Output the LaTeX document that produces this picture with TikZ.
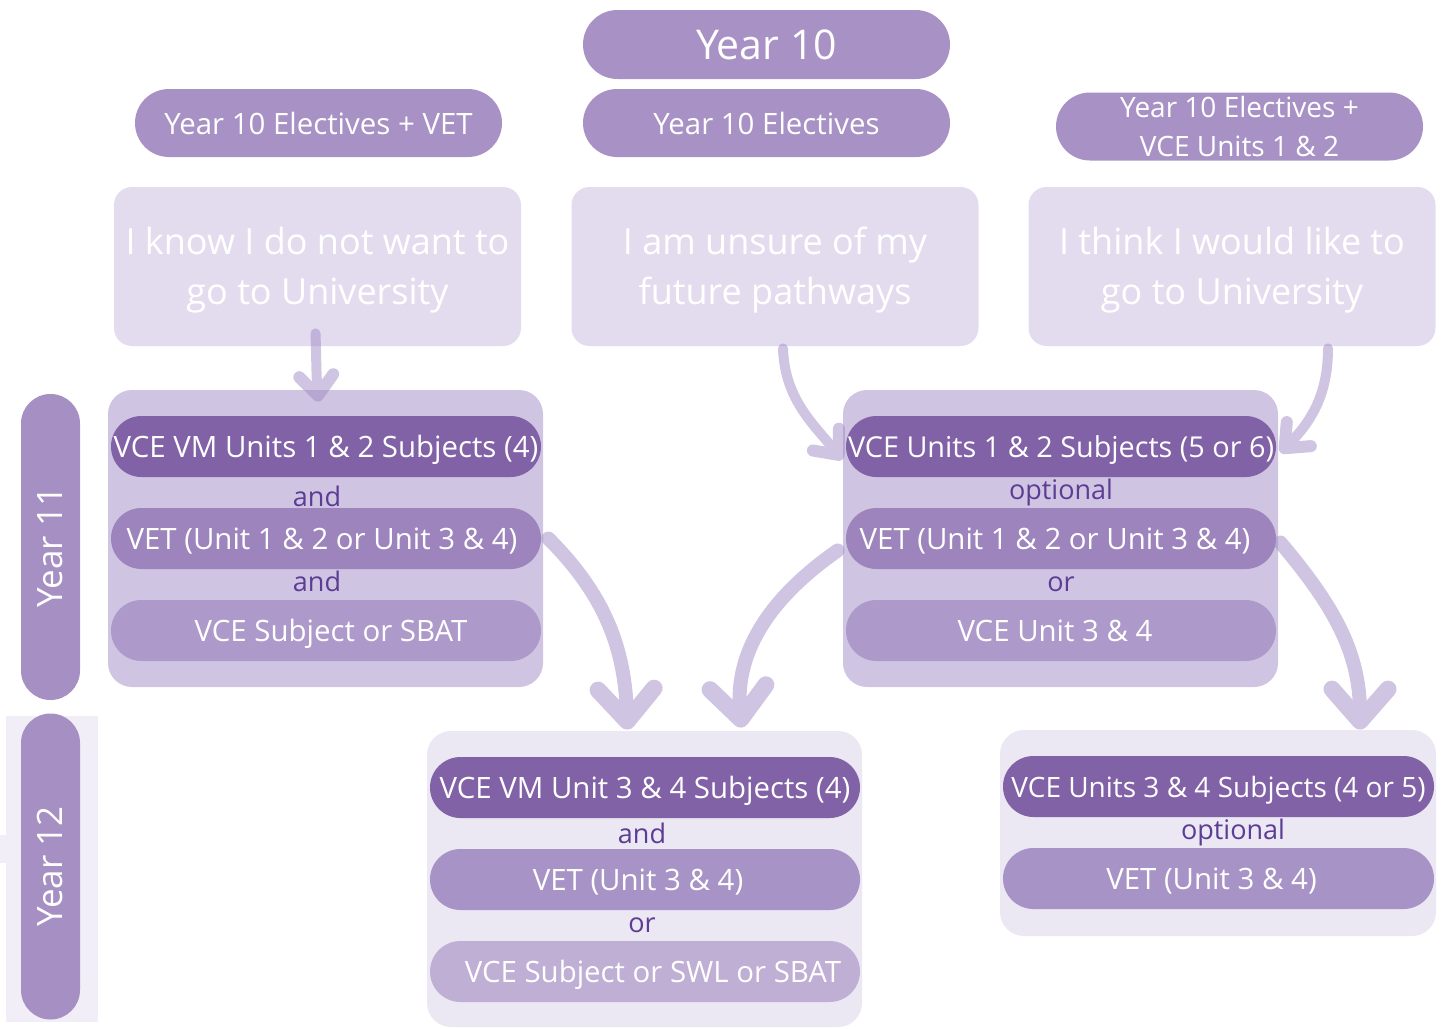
\documentclass[tikz,border=0pt]{standalone}
\usepackage{fontspec}
\setmainfont{Open Sans}
\usetikzlibrary{arrows.meta}

\definecolor{headc}{HTML}{A892C5}
\definecolor{wishc}{HTML}{E3DCEE}
\definecolor{grpa}{HTML}{CFC5E2}
\definecolor{grpb}{HTML}{EBE7F3}
\definecolor{darkc}{HTML}{8262A6}
\definecolor{veta}{HTML}{9D84BC}
\definecolor{sbata}{HTML}{AD9ACA}
\definecolor{vetb}{HTML}{A893C6}
\definecolor{swlc}{HTML}{BFAFD5}
\definecolor{wordc}{HTML}{5C3C94}
\definecolor{sidec}{HTML}{A58FC3}
\definecolor{sideb}{HTML}{F1EEF7}
\definecolor{flowc}{HTML}{9F89C3}

\tikzset{
  head/.style={fill=headc, text=white, rounded corners=17pt, minimum width=183.5pt,
    minimum height=34pt, inner sep=0pt, align=center, font=\fontsize{14.7}{19.5}\selectfont},
  wish/.style={fill=wishc, rounded corners=9pt, minimum width=203.5pt,
    minimum height=79.5pt, inner sep=0pt},
  wishtext/.style={text=white, inner sep=0pt, align=center, font=\fontsize{18}{25}\selectfont},
  grp/.style={rounded corners=12pt, minimum width=217.5pt, inner sep=0pt},
  pill/.style={text=white, rounded corners=15.25pt, minimum width=215pt, minimum height=30.5pt,
    inner sep=0pt, text height=10.5pt, text depth=0pt, font=\fontsize{14.7}{18}\selectfont},
  word/.style={text=wordc, inner sep=0pt, text height=10pt, text depth=0pt,
    font=\fontsize{13.5}{16}\selectfont},
  side/.style={fill=sidec, text=white, rotate=90, rounded corners=14.75pt, minimum width=153pt,
    minimum height=29.5pt, inner sep=0pt, text height=12pt, text depth=0pt,
    font=\fontsize{17.5}{20}\selectfont},
  flow/.style={draw=flowc, line width=7pt, line cap=round,
    -{Straight Barb[length=16pt,width=28pt,line width=8.5pt,round]}},
  smallflow/.style={draw=flowc, line width=5pt, line cap=round,
    -{Straight Barb[length=10pt,width=17pt,line width=6pt,round]}}
}

\begin{document}
\begin{tikzpicture}[x=0.5pt,y=-0.5pt]
\useasboundingbox (0,0) rectangle (1450,1028);

\node[head, minimum height=34.5pt, rounded corners=17.25pt, font=\fontsize{20.5}{24}\selectfont] (year10) at (766.5,44.5) {Year 10};
\node[head] (elect) at (766.5,123) {Year 10 Electives};
\node[head] (electvet) at (318.5,123) {Year 10 Electives + VET};
\node[head, font=\fontsize{14}{19.5}\selectfont] (electvce) at (1239.5,126.5) {Year 10 Electives +\\VCE Units 1 \& 2};

\node[wish] (know) at (317.5,266.5) {};
\node[wishtext] (knowt) at ([yshift=-2pt]know.center) {I know I do not want to\\go to University};
\node[wish] (unsure) at (775,266.5) {};
\node[wishtext] (unsuret) at ([yshift=-2pt]unsure.center) {I am unsure of my\\future pathways};
\node[wish] (think) at (1232,266.5) {};
\node[wishtext] (thinkt) at ([yshift=-2pt]think.center) {I think I would like to\\go to University};

\fill[sideb] (6,716) rectangle (98,1022);
\fill[sideb] (0,835) rectangle (6,863);
\node[side] (yr11) at (50.5,547) {Year 11};
\node[side] (yr12) at (50.5,866.5) {Year 12};

\node[grp, fill=grpa, minimum height=148.5pt] (gvm) at (325.5,538.5) {};
\node[pill, fill=darkc] (vm12) at (326,446.5) {VCE VM Units 1 \& 2 Subjects (4)};
\node[word] (and1) at (317,496) {and};
\node[pill, fill=veta] (vetvm) at (326,538.5) {\hspace{-4pt}VET (Unit 1 \& 2 or Unit 3 \& 4)};
\node[word] (and2) at (317,581) {and};
\node[pill, fill=sbata] (sbat) at (326,630.5) {\hspace{5pt}VCE Subject or SBAT};

\node[grp, fill=grpa, minimum height=148.5pt] (gvce) at (1060.5,538.5) {};
\node[pill, fill=darkc, font=\fontsize{14.4}{18}\selectfont] (vce12) at (1061,446.5) {VCE Units 1 \& 2 Subjects (5 or 6)};
\node[word] (opt1) at (1061,489) {optional};
\node[pill, fill=veta] (vetvce) at (1061,538.5) {\hspace{-6pt}VET (Unit 1 \& 2 or Unit 3 \& 4)};
\node[word] (or1) at (1061,581) {or};
\node[pill, fill=sbata] (vce34) at (1061,630.5) {\hspace{-6pt}VCE Unit 3 \& 4};

\node[grp, fill=grpb, minimum height=148pt] (gvm34) at (644.5,879) {};
\node[pill, fill=darkc] (vm34) at (645,787.5) {VCE VM Unit 3 \& 4 Subjects (4)};
\node[word] (and3) at (642,833) {and};
\node[pill, fill=vetb] (vet34) at (645,879.5) {\hspace{-7pt}VET (Unit 3 \& 4)};
\node[word] (or2) at (642,922) {or};
\node[pill, fill=swlc] (swl) at (645,971.5) {\hspace{8pt}VCE Subject or SWL or SBAT};

\node[grp, fill=grpb, minimum width=218pt, minimum height=103pt] (gvce34) at (1218,833) {};
\node[pill, fill=darkc, minimum width=215.5pt, font=\fontsize{14}{18}\selectfont] (vce34s) at (1218.5,786.5) {VCE Units 3 \& 4 Subjects (4 or 5)};
\node[word] (opt2) at (1233,829) {optional};
\node[pill, fill=vetb, minimum width=215.5pt] (vet34r) at (1218.5,878.5) {\hspace{-7pt}VET (Unit 3 \& 4)};

\begin{scope}[transparency group, opacity=0.5]
\draw[smallflow] ([xshift=-1pt,yshift=6.5pt]know.south) to[out=-88,in=95] ([xshift=-3.5pt,yshift=-6pt]gvm.north);
\end{scope}
\begin{scope}[transparency group, opacity=0.5]
\draw[smallflow] ([xshift=4pt,yshift=-1pt]unsure.south) to[out=-88,in=130] ([xshift=-1.5pt,yshift=-6.5pt]vce12.west);
\end{scope}
\begin{scope}[transparency group, opacity=0.5]
\draw[smallflow] ([xshift=48pt,yshift=-1pt]think.south) to[out=-90,in=45] ([xshift=2pt,yshift=-3pt]vce12.east);
\end{scope}
\begin{scope}[transparency group, opacity=0.5]
\draw[flow] ([xshift=3.5pt]vetvm.east) to[out=-45,in=92] ([xshift=-8.5pt,yshift=0.5pt]gvm34.north);
\end{scope}
\begin{scope}[transparency group, opacity=0.5]
\draw[flow] ([xshift=-4pt,yshift=-6pt]vetvce.west) to[out=-145,in=95] ([xshift=48.5pt,yshift=1.5pt]gvm34.north);
\end{scope}
\begin{scope}[transparency group, opacity=0.5]
\draw[flow] ([xshift=2pt,yshift=-2pt]vetvce.east) to[out=-50,in=90] ([xshift=71pt]gvce34.north);
\end{scope}
\end{tikzpicture}
\end{document}
